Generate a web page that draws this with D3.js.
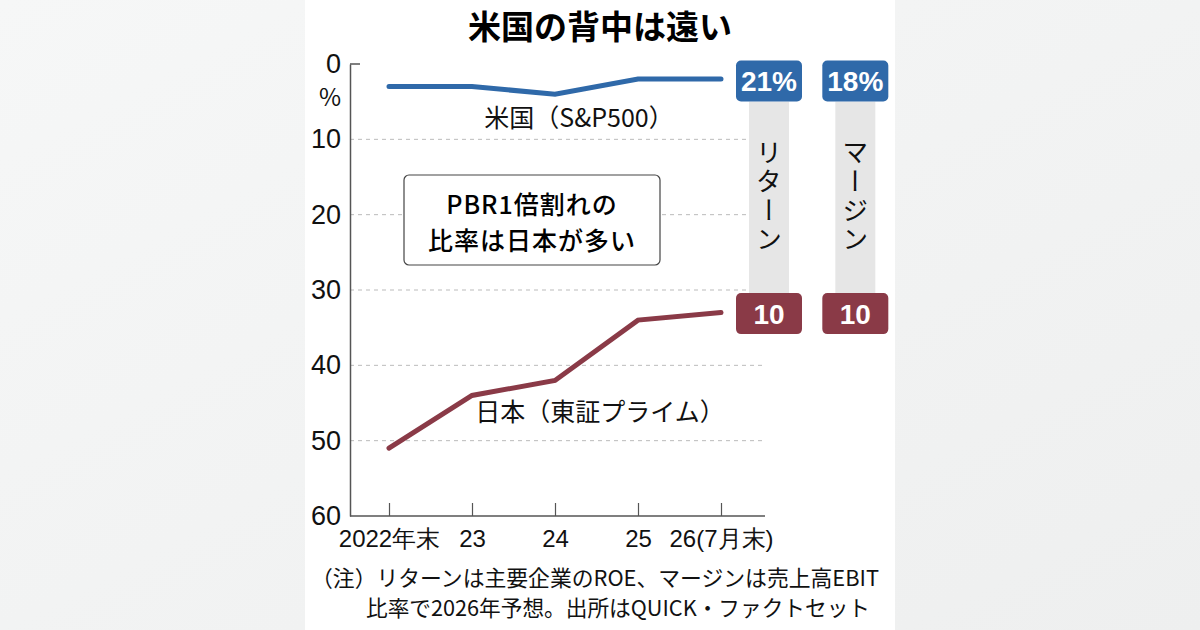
<!DOCTYPE html>
<html>
<head>
<meta charset="utf-8">
<script src="https://cdn.jsdelivr.net/npm/d3@7"></script>
<style>
  body { margin: 0; background: #f2f3f3; }
  svg { display: block; font-family: "Noto Sans CJK JP", sans-serif; }
</style>
</head>
<body>
<svg id="chart" width="1200" height="630"></svg>
<script>
const years = ["2022年末", "23", "24", "25", "26(7月末)"];
const usShare = [3, 3, 4, 2, 2];
const jpShare = [51, 44, 42, 34, 33];
const yTicks = [0, 10, 20, 30, 40, 50, 60];
const boxHeads = ["リターン", "マージン"];
const usBoxes = ["21%", "18%"];
const jpBoxes = ["10", "10"];

const svg = d3.select("#chart");
const blue = "#2f69a9";
const maroon = "#8a3a47";

// background and white panel
const bg = svg.append("defs").append("linearGradient").attr("id", "bg")
  .attr("x1", 0).attr("x2", 1).attr("y1", 0).attr("y2", 1);
bg.append("stop").attr("offset", 0).attr("stop-color", "#f6f7f7");
bg.append("stop").attr("offset", 1).attr("stop-color", "#eeefef");
svg.append("rect").attr("width", 1200).attr("height", 630).attr("fill", "url(#bg)");
svg.append("rect").attr("x", 305).attr("width", 590).attr("height", 630).attr("fill", "#fff");

const x = d3.scalePoint().domain(years).range([389, 721]);
const y = d3.scaleLinear().domain([0, 60]).range([64, 516]);
const left = 350, right = 765;

svg.append("text").attr("x", 600).attr("y", 39)
  .attr("text-anchor", "middle").attr("font-size", 33).attr("font-weight", 700)
  .text("米国の背中は遠い");

// gridlines
svg.append("g").selectAll("line").data(yTicks.filter(d => d > 0 && d < 60)).join("line")
  .attr("x1", left).attr("x2", right)
  .attr("y1", d => y(d)).attr("y2", d => y(d))
  .attr("stroke", "#bbb").attr("stroke-dasharray", "4,4");

// y axis
const yAxis = svg.append("g").attr("transform", `translate(${left},0)`)
  .call(d3.axisLeft(y).tickValues(yTicks).tickSize(0).tickPadding(9));
yAxis.select(".domain").attr("stroke", "#555").attr("stroke-width", 1.5);
yAxis.selectAll("text").attr("font-size", 27).attr("fill", "#111");
svg.append("line").attr("x1", left).attr("x2", left + 10)
  .attr("y1", y(0)).attr("y2", y(0)).attr("stroke", "#555").attr("stroke-width", 1.5);
svg.append("text").attr("x", 330).attr("y", 106).attr("text-anchor", "middle")
  .attr("font-size", 24).attr("fill", "#111").text("%");

// x axis
const xAxis = svg.append("g").attr("transform", `translate(0,${y(60)})`)
  .call(d3.axisBottom(x).tickSizeInner(-13).tickSizeOuter(0).tickPadding(14));
xAxis.select(".domain").attr("d", `M${left},0H${right}`).attr("stroke", "#555").attr("stroke-width", 1.5);
xAxis.selectAll(".tick line").attr("stroke", "#555").attr("stroke-width", 1.2);
xAxis.selectAll("text").attr("font-size", 24).attr("fill", "#111");

// lines
const line = d3.line().x((d, i) => x(years[i])).y(d => y(d));
svg.append("path").datum(usShare).attr("d", line)
  .attr("fill", "none").attr("stroke", blue).attr("stroke-width", 5).attr("stroke-linecap", "round");
svg.append("path").datum(jpShare).attr("d", line)
  .attr("fill", "none").attr("stroke", maroon).attr("stroke-width", 5).attr("stroke-linecap", "round");

svg.append("text").attr("x", 579).attr("y", 127).attr("text-anchor", "middle")
  .attr("font-size", 25).attr("fill", "#111").text("米国（S&P500）");
svg.append("text").attr("x", 600).attr("y", 421).attr("text-anchor", "middle")
  .attr("font-size", 25).attr("fill", "#111").text("日本（東証プライム）");

// callout box
svg.append("rect").attr("x", 404).attr("y", 175).attr("width", 256).attr("height", 90)
  .attr("rx", 5).attr("fill", "#fff").attr("stroke", "#444").attr("stroke-width", 1.2);
svg.append("text").attr("x", 532).attr("y", 214).attr("text-anchor", "middle")
  .attr("font-size", 25).attr("font-weight", 500).attr("letter-spacing", 1).text("PBR1倍割れの");
svg.append("text").attr("x", 532).attr("y", 250).attr("text-anchor", "middle")
  .attr("font-size", 25).attr("font-weight", 500).attr("letter-spacing", 1).text("比率は日本が多い");

// value boxes
const boxX = d3.scaleBand().domain(boxHeads).range([736, 900]).paddingInner(0.1).paddingOuter(0);
const bw = 66, bh = 41;
const yUs = y(usShare[usShare.length - 1]) + 2;
const yJp = y(jpShare[jpShare.length - 1]) + 1;

const cols = svg.append("g").selectAll("g").data(boxHeads).join("g")
  .attr("transform", d => `translate(${boxX(d)},0)`);
cols.append("rect").attr("x", bw / 2 - 20).attr("width", 40)
  .attr("y", yUs + bh / 2).attr("height", yJp - yUs - bh)
  .attr("fill", "#e6e6e6");
cols.append("text")
  .attr("x", bw / 2).attr("y", (yUs + yJp) / 2)
  .style("writing-mode", "vertical-rl")
  .attr("text-anchor", "middle").attr("font-size", 26).attr("fill", "#111")
  .attr("letter-spacing", 3)
  .text(d => d);

function valueBoxes(vals, cy, color) {
  const g = svg.append("g").selectAll("g").data(vals).join("g")
    .attr("transform", (d, i) => `translate(${boxX(boxHeads[i])},${cy - bh / 2})`);
  g.append("rect").attr("width", bw).attr("height", bh).attr("rx", 5).attr("fill", color);
  g.append("text").attr("x", bw / 2).attr("y", bh / 2).attr("dy", "0.36em")
    .attr("text-anchor", "middle").attr("font-size", 28).attr("font-weight", 700)
    .attr("fill", "#fff").attr("font-family", "'Liberation Sans', Arial, sans-serif")
    .text(d => d);
}
valueBoxes(usBoxes, yUs, blue);
valueBoxes(jpBoxes, yJp, maroon);

// note
svg.append("text").attr("x", 311).attr("y", 586).attr("font-size", 22).attr("fill", "#111")
  .attr("textLength", 568).attr("lengthAdjust", "spacingAndGlyphs")
  .text("（注）リターンは主要企業のROE、マージンは売上高EBIT");
svg.append("text").attr("x", 366).attr("y", 616).attr("font-size", 22).attr("fill", "#111")
  .attr("textLength", 504).attr("lengthAdjust", "spacingAndGlyphs")
  .text("比率で2026年予想。出所はQUICK・ファクトセット");
</script>
</body>
</html>
